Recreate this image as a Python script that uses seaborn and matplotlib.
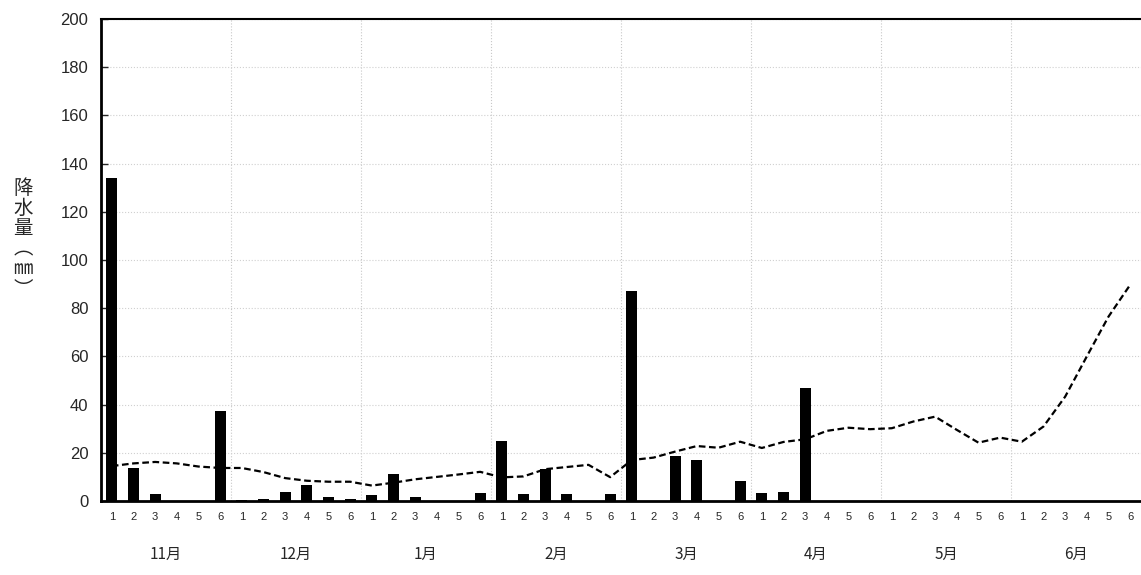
import numpy as np
import pandas as pd
import matplotlib
matplotlib.use("Agg")
import matplotlib.pyplot as plt
import matplotlib.transforms as mtransforms
import seaborn as sns

months = ["11月", "12月", "1月", "2月", "3月", "4月", "5月", "6月"]
pentads = ["1", "2", "3", "4", "5", "6"]

precip = [134.0, 13.5, 3.0, 0.0, 0.0, 37.5,
          0.3, 1.0, 3.8, 6.5, 1.5, 1.0,
          2.3, 11.0, 1.6, 0.0, 0.0, 3.3,
          24.8, 2.9, 13.3, 2.9, 0.0, 2.9,
          87.0, 0.0, 18.6, 17.0, 0.0, 8.2,
          3.3, 3.7, 46.9, 0.0, 0.0, 0.0,
          0.0, 0.0, 0.0, 0.0, 0.0, 0.0,
          0.0, 0.0, 0.0, 0.0, 0.0, 0.0]

normal = [14.5, 15.6, 16.2, 15.6, 14.3, 13.7,
          13.7, 12.0, 9.5, 8.4, 8.0, 8.0,
          6.4, 7.6, 9.0, 10.0, 11.0, 12.1,
          9.8, 10.2, 13.2, 14.1, 15.0, 9.9,
          17.0, 18.0, 20.5, 22.8, 22.1, 24.6,
          22.0, 24.5, 25.6, 29.1, 30.4, 29.8,
          30.2, 33.0, 35.0, 29.5, 24.2, 26.3,
          24.6, 30.9, 43.3, 60.0, 76.5, 89.7]

pos = np.arange(len(precip))
df = pd.DataFrame({"pos": pos, "precip": precip, "normal": normal})

sns.set_theme(style="white")
plt.rcParams["font.family"] = ["Liberation Sans", "Noto Sans CJK JP", "DejaVu Sans"]

fig = plt.figure(figsize=(11.41, 5.75), dpi=100)
ax = fig.add_axes([0.0885, 0.1287, 0.9115, 0.8383])

sns.barplot(data=df, x="pos", y="precip", color="black", width=0.5,
            saturation=1, ax=ax, native_scale=True, linewidth=0,
            edgecolor="none", zorder=3)
sns.lineplot(data=df, x="pos", y="normal", color="black", linestyle=(0, (3, 1.6)),
             linewidth=1.6, ax=ax, zorder=4)

ax.set_xlim(-0.5, 47.5)
ax.set_ylim(0, 200)
ax.set_yticks(np.arange(0, 201, 20))
ax.set_xticks(pos)
ax.set_xticklabels(pentads * len(months), fontsize=8)
ax.set_xticks(np.arange(5.5, 47, 6), minor=True)
ax.tick_params(axis="x", which="both", length=0, pad=8)
ax.tick_params(axis="y", which="major", direction="in", length=5, width=1,
               labelsize=12, pad=9, left=True)
ax.grid(False)
ax.yaxis.grid(True, which="major", color="#d0d0d0", linestyle=":", linewidth=0.8)
ax.xaxis.grid(True, which="minor", color="#c8c8c8", linestyle=":", linewidth=0.8)
ax.set_axisbelow(True)

for side in ["left", "bottom"]:
    ax.spines[side].set_linewidth(2.0)
    ax.spines[side].set_color("black")
ax.spines["top"].set_linewidth(1.5)
ax.spines["top"].set_color("black")
ax.spines["right"].set_visible(False)

ax.set_xlabel("")
ax.set_ylabel("")

trans = mtransforms.blended_transform_factory(ax.transData, ax.transAxes)
for i, m in enumerate(months):
    ax.text(2.5 + 6 * i, -0.11, m, transform=trans, ha="center", va="center",
            fontsize=11, family=["Noto Sans CJK JP", "DejaVu Sans"])

fig.text(0.020, 0.585, "降\n水\n量\n︵\n㎜\n︶", ha="center", va="center",
         fontsize=14, linespacing=0.95, family=["Noto Sans CJK JP", "DejaVu Sans"])

fig.savefig("out.png", dpi=100)
